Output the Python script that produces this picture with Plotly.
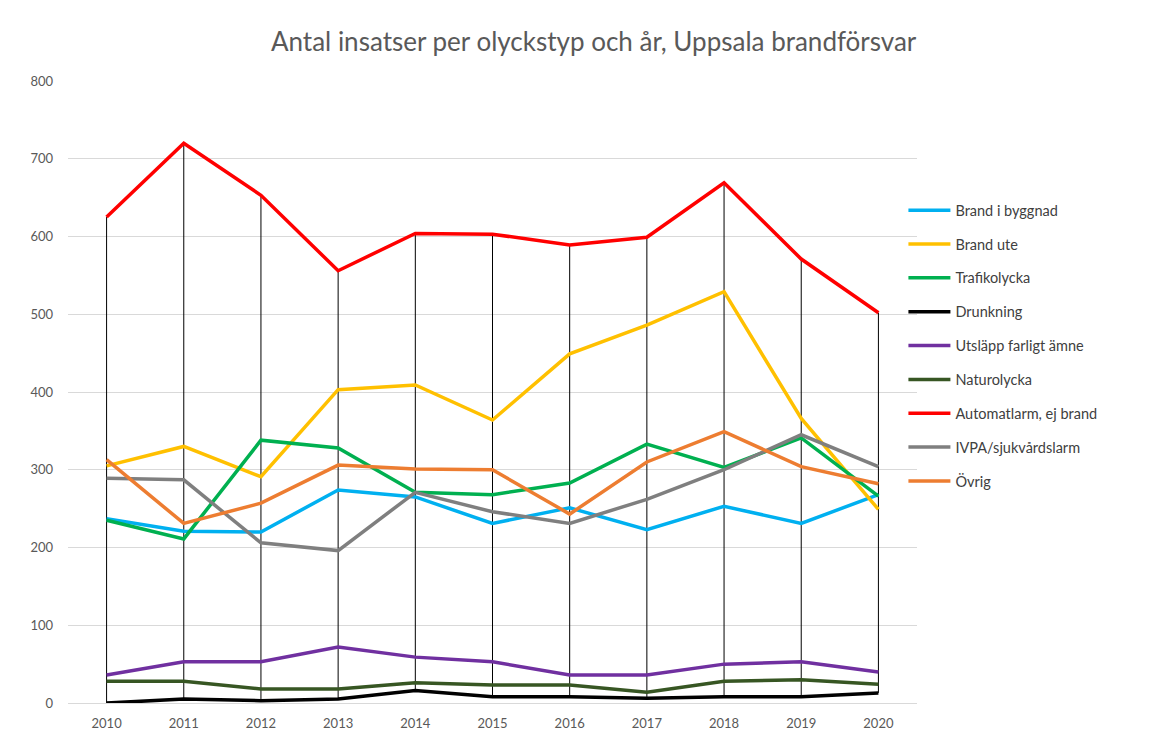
import plotly.graph_objects as go

years = [2010, 2011, 2012, 2013, 2014, 2015, 2016, 2017, 2018, 2019, 2020]

brand_i_byggnad = [237, 221, 220, 274, 265, 231, 251, 223, 253, 231, 268]
brand_ute = [305, 330, 291, 403, 409, 364, 449, 486, 529, 366, 249]
trafikolycka = [235, 211, 338, 328, 271, 268, 283, 333, 303, 341, 266]
drunkning = [0, 5, 3, 5, 16, 8, 8, 6, 8, 8, 13]
utslapp = [36, 53, 53, 72, 59, 53, 36, 36, 50, 53, 40]
naturolycka = [28, 28, 18, 18, 26, 23, 23, 14, 28, 30, 24]
automatlarm = [625, 720, 653, 556, 604, 603, 589, 599, 669, 571, 502]
ivpa = [289, 287, 206, 196, 271, 246, 231, 262, 300, 345, 304]
ovrig = [313, 231, 257, 306, 301, 300, 243, 310, 349, 304, 282]

series = [
    ("Brand i byggnad", brand_i_byggnad, "#00B0F0"),
    ("Brand ute", brand_ute, "#FFC000"),
    ("Trafikolycka", trafikolycka, "#00B050"),
    ("Drunkning", drunkning, "#000000"),
    ("Utsläpp farligt ämne", utslapp, "#7030A0"),
    ("Naturolycka", naturolycka, "#375623"),
    ("Automatlarm, ej brand", automatlarm, "#FF0000"),
    ("IVPA/sjukvårdslarm", ivpa, "#7F7F7F"),
    ("Övrig", ovrig, "#ED7D31"),
]

fig = go.Figure()

# high-low lines from min to max of each year
hx, hy = [], []
all_vals = [s[1] for s in series]
for i, yr in enumerate(years):
    col = [v[i] for v in all_vals]
    hx += [yr, yr, None]
    hy += [min(col), max(col), None]
fig.add_trace(go.Scatter(x=hx, y=hy, mode="lines", line=dict(color="#000000", width=1),
                         showlegend=False, hoverinfo="skip"))

for i, (name, vals, color) in enumerate(series):
    fig.add_trace(go.Scatter(x=years, y=vals, mode="lines", name=name,
                             line=dict(color=color, width=3.5),
                             legendgroup="g%d" % i))

font_family = "Lato, 'Open Sans', sans-serif"

fig.update_layout(
    width=1169, height=745,
    paper_bgcolor="white", plot_bgcolor="white",
    margin=dict(l=60, r=260, t=73, b=50),
    title=dict(text="Antal insatser per olyckstyp och år, Uppsala brandförsvar",
               x=0.501, xanchor="center", y=0.955, yanchor="middle",
               font=dict(family=font_family, size=26, color="#595959")),
    font=dict(family=font_family, size=13, color="#595959"),
    xaxis=dict(range=[2009.5, 2020.5], tickmode="array", tickvals=years,
               ticktext=[str(y) for y in years], showgrid=False,
               showline=True, linecolor="#D9D9D9", linewidth=1,
               ticks="", zeroline=False, ticklabelstandoff=8,
               tickfont=dict(family=font_family, size=13, color="#595959")),
    yaxis=dict(range=[0, 800], dtick=100, showgrid=True, gridcolor="#D9D9D9",
               gridwidth=1, zeroline=False, showline=False, ticks="",
               ticklabelstandoff=14,
               tickfont=dict(family=font_family, size=13, color="#595959")),
    legend=dict(x=0.984, xanchor="left", y=0.818, yanchor="top",
                bgcolor="rgba(0,0,0,0)", tracegroupgap=12, itemwidth=42,
                font=dict(family=font_family, size=14.5, color="#404040")),
    showlegend=True,
)

fig.write_html("out.html")
